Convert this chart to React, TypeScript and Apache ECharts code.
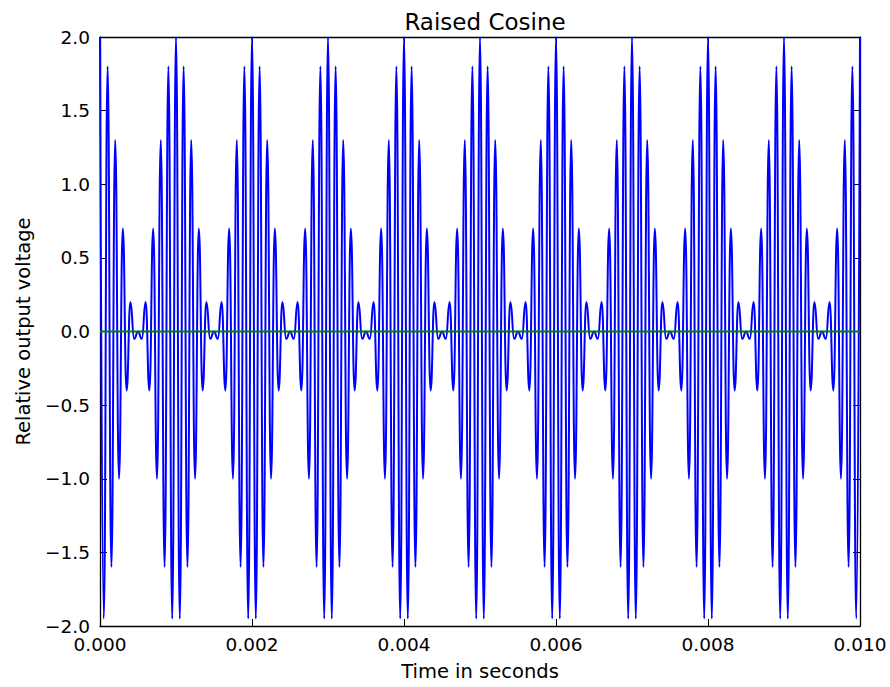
import React, { useEffect, useRef } from "react";
import * as echarts from "echarts";

// One carrier period of the envelope (half-cycle extrema),
// starting at a 2.0 peak; the pattern repeats every 0.001 s.
const periodExtrema = [
  2.0, -1.95, 1.8, -1.6, 1.3, -1.0, 0.7, -0.4, 0.2, -0.05,
  0.0, -0.05, 0.2, -0.4, 0.7, -1.0, 1.3, -1.6, 1.8, -1.95,
];
const periodCount = 10;
const halfCycleSeconds = 0.00005;
const finalValue = 2.0;

const xTicks = [0, 0.002, 0.004, 0.006, 0.008, 0.01];
const yTicks = [-2.0, -1.5, -1.0, -0.5, 0.0, 0.5, 1.0, 1.5, 2.0];
const zeroLine = [
  [0, 0],
  [0.01, 0],
];

const FONT = "DejaVu Sans";

export default function App() {
  const ref = useRef<HTMLDivElement>(null);

  useEffect(() => {
    document.body.style.margin = "0";
    if (!ref.current) return;
    const chart = echarts.init(ref.current, undefined, { renderer: "svg" });

    const values: number[] = [];
    for (let p = 0; p < periodCount; p++) values.push(...periodExtrema);
    values.push(finalValue);
    const signal = values.map((v, i) => [i * halfCycleSeconds, v]);

    const minus = (s: string) => s.replace("-", "\u2212");

    const axisLine = { show: true, onZero: false, lineStyle: { color: "#000", width: 1.3 } };
    const tick = { show: true, inside: true, length: 7, lineStyle: { color: "#000", width: 1 } };

    chart.setOption({
      animation: false,
      backgroundColor: "#fff",
      title: {
        text: "Raised Cosine",
        left: 480,
        top: 5,
        textAlign: "center",
        textStyle: { fontFamily: FONT, fontSize: 23, fontWeight: "normal", color: "#000" },
      },
      grid: { left: 100, right: 30, top: 37, bottom: 61, containLabel: false },
      xAxis: [
        {
          type: "value",
          min: xTicks[0],
          max: xTicks[xTicks.length - 1],
          interval: xTicks[1] - xTicks[0],
          position: "bottom",
          name: "Time in seconds",
          nameLocation: "middle",
          nameGap: 35,
          nameTextStyle: { fontFamily: FONT, fontSize: 19.5, color: "#000" },
          axisLine,
          axisTick: tick,
          splitLine: { show: false },
          axisLabel: {
            fontFamily: FONT,
            fontSize: 18.5,
            color: "#000",
            margin: 9,
            formatter: (v: number) => minus(v.toFixed(3)),
          },
        },
        {
          type: "value",
          min: xTicks[0],
          max: xTicks[xTicks.length - 1],
          interval: xTicks[1] - xTicks[0],
          position: "top",
          axisLine,
          axisTick: tick,
          splitLine: { show: false },
          axisLabel: { show: false },
        },
      ],
      yAxis: [
        {
          type: "value",
          min: yTicks[0],
          max: yTicks[yTicks.length - 1],
          interval: yTicks[1] - yTicks[0],
          position: "left",
          name: "Relative output voltage",
          nameLocation: "middle",
          nameGap: 67,
          nameTextStyle: { fontFamily: FONT, fontSize: 19.5, color: "#000" },
          axisLine,
          axisTick: tick,
          splitLine: { show: false },
          axisLabel: {
            fontFamily: FONT,
            fontSize: 18.5,
            color: "#000",
            margin: 10,
            formatter: (v: number) => minus(v.toFixed(1)),
          },
        },
        {
          type: "value",
          min: yTicks[0],
          max: yTicks[yTicks.length - 1],
          interval: yTicks[1] - yTicks[0],
          position: "right",
          axisLine,
          axisTick: tick,
          splitLine: { show: false },
          axisLabel: { show: false },
        },
      ],
      series: [
        {
          type: "line",
          data: signal,
          showSymbol: false,
          smooth: 0.5,
          smoothMonotone: "x",
          clip: true,
          lineStyle: { color: "#0000ff", width: 2 },
          z: 2,
        },
        {
          type: "line",
          data: zeroLine,
          showSymbol: false,
          clip: true,
          lineStyle: { color: "#008000", width: 1.8 },
          z: 3,
        },
      ],
    });

    return () => chart.dispose();
  }, []);

  return <div ref={ref} style={{ width: 890, height: 687 }} />;
}
